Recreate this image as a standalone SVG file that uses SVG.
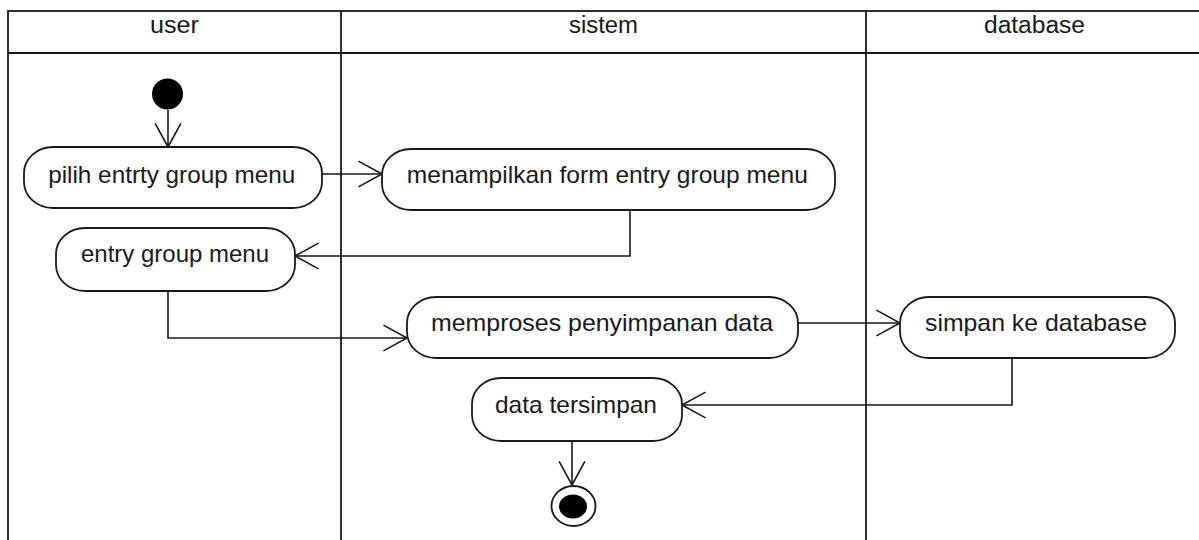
<svg xmlns="http://www.w3.org/2000/svg" width="1199" height="540" viewBox="0 0 1199 540">
<defs>
<style>
.frame{fill:none;stroke:#1a1a1a;stroke-width:1.8}
.act{fill:#ffffff;stroke:#1a1a1a;stroke-width:1.8}
.lbl{font-family:"Liberation Sans",Arial,sans-serif;font-size:24px;fill:#1a1a1a;text-anchor:middle}
.hdr{font-family:"Liberation Sans",Arial,sans-serif;font-size:23px;fill:#1a1a1a;text-anchor:middle}
.edge{fill:none;stroke:#1a1a1a;stroke-width:1.6}
</style>
<marker id="open" markerUnits="userSpaceOnUse" markerWidth="30" markerHeight="30" viewBox="-24 -14 26 28" refX="0" refY="0" orient="auto">
<path d="M-22,-12 L0,0 L-22,12" fill="none" stroke="#1a1a1a" stroke-width="1.5"/>
</marker>
</defs>
<rect width="1199" height="540" fill="#ffffff"/>
<g id="swimlanes">
<rect class="frame" x="8" y="11" width="1195" height="560"/>
<line class="frame" x1="8" y1="53" x2="1203" y2="53"/>
<line class="frame" x1="341" y1="11" x2="341" y2="560"/>
<line class="frame" x1="866" y1="11" x2="866" y2="560"/>
<text class="hdr" x="174.5" y="33" textLength="49" lengthAdjust="spacingAndGlyphs">user</text>
<text class="hdr" x="603.5" y="33" textLength="69" lengthAdjust="spacingAndGlyphs">sistem</text>
<text class="hdr" x="1034.5" y="33" textLength="101" lengthAdjust="spacingAndGlyphs">database</text>
</g>
<g id="connectors">
<path class="edge" d="M168,110 L168,147" marker-end="url(#open)"/>
<path class="edge" d="M322,174 L382,174" marker-end="url(#open)"/>
<path class="edge" d="M630,210 L630,256 L295,256" marker-end="url(#open)"/>
<path class="edge" d="M168,291 L168,338 L407,338" marker-end="url(#open)"/>
<path class="edge" d="M798,323 L900,323" marker-end="url(#open)"/>
<path class="edge" d="M1012,358 L1012,405 L682,405" marker-end="url(#open)"/>
<path class="edge" d="M572,441 L572,485" marker-end="url(#open)"/>
</g>
<g id="start">
<circle cx="167.5" cy="94" r="15.5" fill="#000000"/>
</g>
<g id="pilih-entrty-group-menu">
<rect class="act" x="24" y="147" width="298" height="61" rx="29" ry="26"/>
<text class="lbl" x="171.7" y="183" textLength="247" lengthAdjust="spacingAndGlyphs">pilih entrty group menu</text>
</g>
<g id="menampilkan-form">
<rect class="act" x="382" y="149" width="453" height="61" rx="29" ry="26"/>
<text class="lbl" x="607.3" y="183" textLength="401" lengthAdjust="spacingAndGlyphs">menampilkan form entry group menu</text>
</g>
<g id="entry-group-menu">
<rect class="act" x="56" y="228" width="239" height="63" rx="29" ry="26"/>
<text class="lbl" x="175" y="262" textLength="188" lengthAdjust="spacingAndGlyphs">entry group menu</text>
</g>
<g id="memproses-penyimpanan-data">
<rect class="act" x="407" y="297" width="391" height="61" rx="29" ry="26"/>
<text class="lbl" x="602" y="331" textLength="342" lengthAdjust="spacingAndGlyphs">memproses penyimpanan data</text>
</g>
<g id="simpan-ke-database">
<rect class="act" x="900" y="297" width="275" height="61" rx="29" ry="26"/>
<text class="lbl" x="1036" y="331" textLength="222" lengthAdjust="spacingAndGlyphs">simpan ke database</text>
</g>
<g id="data-tersimpan">
<rect class="act" x="472" y="378" width="210" height="63" rx="29" ry="26"/>
<text class="lbl" x="576" y="413" textLength="162" lengthAdjust="spacingAndGlyphs">data tersimpan</text>
</g>
<g id="end">
<ellipse cx="573.5" cy="506" rx="22" ry="20" fill="#ffffff" stroke="#1a1a1a" stroke-width="1.8"/>
<ellipse cx="573" cy="506.5" rx="14" ry="12" fill="#000000"/>
</g>
</svg>
